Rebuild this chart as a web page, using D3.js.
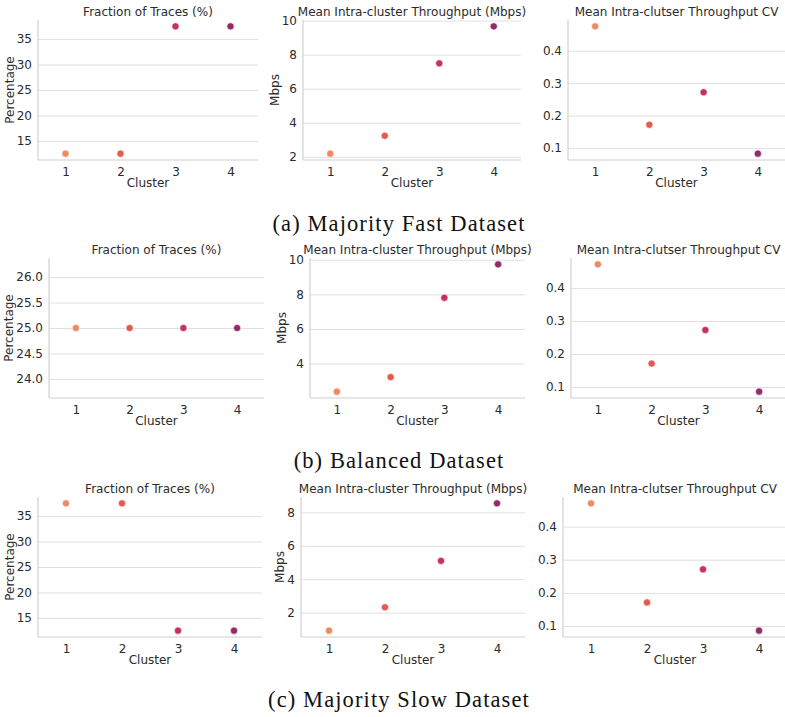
<!DOCTYPE html>
<html>
<head>
<meta charset="utf-8">
<script src="https://cdn.jsdelivr.net/npm/d3@7"></script>
<style>
  body { margin: 0; background: #fff; }
  svg text { font-family: "DejaVu Sans", sans-serif; fill: #2b2b2b; }
  svg text.caption { font-family: "Liberation Serif", serif; fill: #111; }
</style>
</head>
<body>
<svg id="fig"></svg>
<script>
// cluster ids + palette (one colour per cluster)
var clusters = [1, 2, 3, 4];
var clusterColors = ["#ee8a62", "#e35a4f", "#c5325e", "#922a6b"];

// fraction of traces (%)
var fracFast = [12.5, 12.5, 37.5, 37.5],
  fracBalanced = [25, 25, 25, 25],
  fracSlow = [37.5, 37.5, 12.5, 12.5];

// mean intra-cluster throughput (Mbps)
var mbpsFast = [2.19, 3.24, 7.49, 9.66],
  mbpsBalanced = [2.38, 3.22, 7.8, 9.73],
  mbpsSlow = [0.92, 2.32, 5.1, 8.54];

// mean intra-cluster throughput CV
var cvFast = [0.475, 0.172, 0.272, 0.083],
  cvBalanced = [0.472, 0.171, 0.273, 0.086],
  cvSlow = [0.47, 0.171, 0.271, 0.086];

// tick labels
var pctTicks = [15, 20, 25, 30, 35],
  pctTicksBalanced = [24.0, 24.5, 25.0, 25.5, 26.0],
  mbpsTicksFast = [2, 4, 6, 8, 10],
  mbpsTicksBalanced = [4, 6, 8, 10],
  mbpsTicksSlow = [2, 4, 6, 8],
  cvTicks = [0.1, 0.2, 0.3, 0.4];

var titles = ["Fraction of Traces (%)", "Mean Intra-cluster Throughput (Mbps)", "Mean Intra-clutser Throughput CV"];
var yLabels = ["Percentage", "Mbps", ""];
var captions = ["(a) Majority Fast Dataset", "(b) Balanced Dataset", "(c) Majority Slow Dataset"];

// figure size and panel boxes
var width = 785, height = 717;
var rows = [
  {top: 20, bottom: 160, caption: 231, lefts: [38, 303, 568], rights: [258, 521, 785]},
  {top: 258, bottom: 398, caption: 468, lefts: [49, 310, 571], rights: [264, 525, 786]},
  {top: 497, bottom: 637, caption: 707, lefts: [38, 301, 563], rights: [262, 525, 787]}
];
var rowPanels = [
  [{vals: fracFast, ticks: pctTicks, fmt: "d"}, {vals: mbpsFast, ticks: mbpsTicksFast, fmt: "d"}, {vals: cvFast, ticks: cvTicks, fmt: ".1f"}],
  [{vals: fracBalanced, ticks: pctTicksBalanced, fmt: ".1f"}, {vals: mbpsBalanced, ticks: mbpsTicksBalanced, fmt: "d"}, {vals: cvBalanced, ticks: cvTicks, fmt: ".1f"}],
  [{vals: fracSlow, ticks: pctTicks, fmt: "d"}, {vals: mbpsSlow, ticks: mbpsTicksSlow, fmt: "d"}, {vals: cvSlow, ticks: cvTicks, fmt: ".1f"}]
];

var fontSize = 12;

var svg = d3.select("#fig")
  .attr("width", width)
  .attr("height", height);

// matplotlib style limits: 5% margin, widened when flat
function padDomain(vals) {
  var lo = d3.min(vals), hi = d3.max(vals);
  if (lo === hi) { lo -= 0.05 * Math.abs(lo); hi += 0.05 * Math.abs(hi); }
  var m = (hi - lo) * 0.05;
  return [lo - m, hi + m];
}

function drawPanel(row, col, panel) {
  var x0 = row.lefts[col], x1 = row.rights[col];
  var x = d3.scaleLinear().domain([0.5, 4.5]).range([x0, x1]),
    y = d3.scaleLinear().domain(padDomain(panel.vals)).range([row.bottom, row.top]);

  var g = svg.append("g");

  // horizontal grid
  g.append("g")
    .attr("transform", "translate(" + x0 + ",0)")
    .call(d3.axisLeft(y).tickValues(panel.ticks).tickSize(-(x1 - x0)).tickFormat(""))
    .call(function(a) { a.select(".domain").remove(); })
    .selectAll("line")
      .attr("stroke", "#e0e0e0")
      .attr("stroke-width", 1);

  // spines (left + bottom only)
  g.append("line")
    .attr("x1", x0).attr("x2", x0)
    .attr("y1", row.top).attr("y2", row.bottom)
    .attr("stroke", "#d0d0d0").attr("stroke-width", 1.2);
  g.append("line")
    .attr("x1", x0).attr("x2", x1)
    .attr("y1", row.bottom).attr("y2", row.bottom)
    .attr("stroke", "#d0d0d0").attr("stroke-width", 1.2);

  // y tick labels
  var yAxis = g.append("g")
    .attr("transform", "translate(" + x0 + ",0)")
    .call(d3.axisLeft(y).tickValues(panel.ticks).tickSize(0).tickPadding(6).tickFormat(d3.format(panel.fmt)));
  yAxis.select(".domain").remove();
  yAxis.attr("font-family", null).attr("font-size", null);
  yAxis.selectAll("text").style("font-size", fontSize + "px");

  // x tick labels
  var xAxis = g.append("g")
    .attr("transform", "translate(0," + row.bottom + ")")
    .call(d3.axisBottom(x).tickValues(clusters).tickSize(0).tickPadding(7).tickFormat(d3.format("d")));
  xAxis.select(".domain").remove();
  xAxis.attr("font-family", null).attr("font-size", null);
  xAxis.selectAll("text").style("font-size", fontSize + "px");

  // title
  g.append("text")
    .attr("x", (x0 + x1) / 2)
    .attr("y", row.top - 4)
    .attr("text-anchor", "middle")
    .style("font-size", fontSize + "px")
    .text(titles[col]);

  // x label
  g.append("text")
    .attr("x", (x0 + x1) / 2)
    .attr("y", row.bottom + 27)
    .attr("text-anchor", "middle")
    .style("font-size", fontSize + "px")
    .text("Cluster");

  // y label, placed just left of the tick labels
  if (yLabels[col]) {
    var bb = yAxis.node().getBBox();
    var lx = x0 + bb.x - 3, ly = (row.top + row.bottom) / 2;
    g.append("text")
      .attr("transform", "translate(" + lx + "," + ly + ") rotate(-90)")
      .attr("text-anchor", "middle")
      .style("font-size", fontSize + "px")
      .text(yLabels[col]);
  }

  // points
  g.selectAll(".dot")
      .data(clusters)
    .enter().append("circle")
      .attr("class", "dot")
      .attr("cx", function(d) { return x(d); })
      .attr("cy", function(d, i) { return y(panel.vals[i]); })
      .attr("r", 3.6)
      .attr("fill", function(d, i) { return clusterColors[i]; })
      .attr("stroke", "#fff")
      .attr("stroke-width", 0.6);
}

rows.forEach(function(row, r) {
  rowPanels[r].forEach(function(panel, c) { drawPanel(row, c, panel); });

  svg.append("text")
    .attr("class", "caption")
    .attr("x", 399)
    .attr("y", row.caption)
    .attr("text-anchor", "middle")
    .style("font-size", "22.5px")
    .style("letter-spacing", "1.1px")
    .text(captions[r]);
});
</script>
</body>
</html>
